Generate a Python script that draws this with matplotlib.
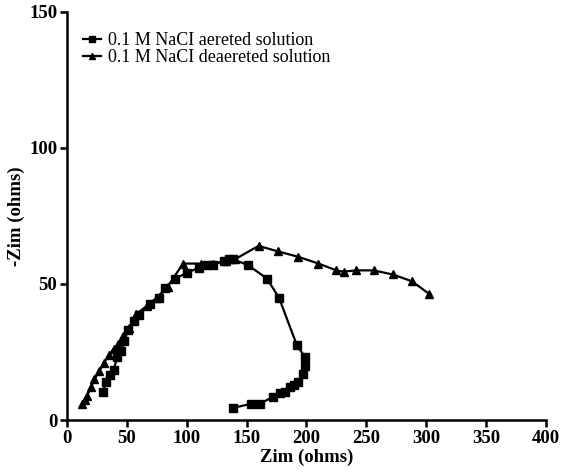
import matplotlib
matplotlib.use("Agg")
import matplotlib.pyplot as plt

# aerated solution (squares)
aer_x = [30, 33, 36, 39, 42, 45, 48, 51, 56, 60, 69, 77, 82, 90, 100, 110, 117, 122,
         131, 135, 139, 151, 167, 177, 192, 199, 199, 197, 193, 190, 186, 182, 178,
         172, 161, 154, 139]
aer_y = [10.5, 14, 16.5, 18.5, 23, 25.5, 29, 33, 36.5, 38.5, 42.5, 45, 48.5, 52, 54,
         56, 57, 57, 58.5, 59, 59, 57, 52, 45, 27.5, 23, 20, 17, 14, 13, 12, 10.5,
         10, 8.5, 6, 6, 4.5]

# deaerated solution (triangles)
dea_x = [13, 15, 17, 20, 23, 27, 31, 35, 39, 43, 47, 52, 58, 67, 75, 84, 97, 112,
         122, 133, 140, 160, 176, 193, 210, 225, 231, 241, 256, 272, 288, 302]
dea_y = [6, 7.5, 9, 12, 15, 18, 21, 24, 26, 28, 31, 34, 39, 42, 45, 49, 57.5, 57.5,
         57.5, 58.5, 59, 64, 62, 60, 57.5, 55, 54.5, 55, 55, 53.5, 51, 46.5]

labels = ["0.1 M NaCI aereted solution", "0.1 M NaCI deaereted solution"]

plt.rcParams['font.family'] = ['Liberation Serif', 'DejaVu Serif']

fig = plt.figure(figsize=(5.67, 4.72), dpi=100)
ax = fig.add_axes([0.118, 0.110, 0.845, 0.865])

ax.plot(aer_x, aer_y, color='black', lw=1.6, marker='s', markersize=5.5, label=labels[0])
ax.plot(dea_x, dea_y, color='black', lw=1.6, marker='^', markersize=6, label=labels[1])

ax.set_xlim(0, 400)
ax.set_ylim(0, 150)
ax.set_xticks(range(0, 401, 50))
ax.set_yticks([0, 50, 100, 150])

for side in ['top', 'right']:
    ax.spines[side].set_visible(False)
for side in ['left', 'bottom']:
    ax.spines[side].set_linewidth(1.8)

ax.tick_params(direction='out', length=5, width=1.8, labelsize=13.5, pad=2)
for lab in ax.get_xticklabels() + ax.get_yticklabels():
    lab.set_fontweight('bold')

ax.set_xlabel("Zim (ohms)", fontsize=13.5, fontweight='bold', labelpad=1)
ax.set_ylabel("-Zim (ohms)", fontsize=13.5, fontweight='bold', labelpad=3)

ax.legend(loc='upper left', bbox_to_anchor=(0.0, 0.99), frameon=False,
          handlelength=1.0, handletextpad=0.4, labelspacing=0.0, fontsize=13,
          markerscale=0.75)

fig.savefig("out.png", dpi=100)
